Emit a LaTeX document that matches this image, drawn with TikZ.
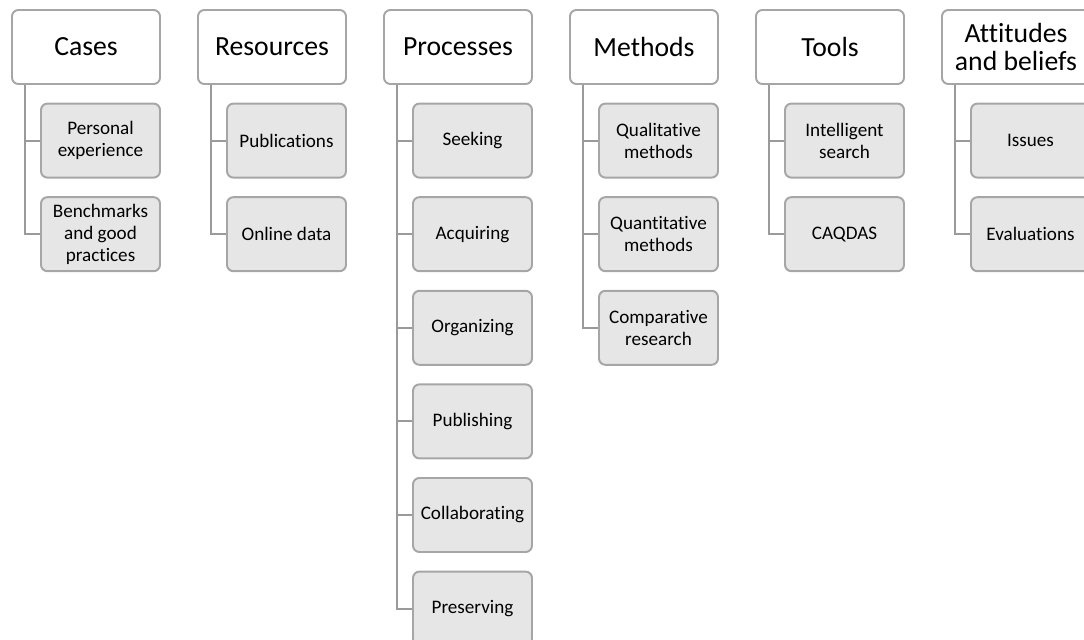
\documentclass[tikz,border=0pt]{standalone}
\usepackage{fontspec}
\setmainfont[Ligatures = NoCommon]{Carlito}
\usepackage{tikz}
\usepackage{xcolor}
\definecolor{boxline}{HTML}{A6A6A6}
\definecolor{subfill}{HTML}{E6E6E6}
\definecolor{treeline}{HTML}{9A9A9A}

\begin{document}
\begin{tikzpicture}[
toprect/.style={rectangle, align = center,
draw = boxline, fill = white, line width = 1.4pt,
minimum width = 3.7cm, minimum height = 1.85cm, rounded corners = 0.16cm,
font = \fontsize{19.7}{19.5}\selectfont},
subrect/.style={rectangle, align = center,
draw = boxline, fill = subfill, line width = 1.4pt,
minimum width = 2.975cm, minimum height = 1.85cm, rounded corners = 0.16cm,
font = \fontsize{13.6}{15.5}\selectfont},
treearr/.style={draw = treeline, line width = 1.4pt},
node distance = 2.34cm]

\useasboundingbox (0,0) rectangle (27.1,-16);

% category headers
\node[toprect] (Cases) at (2.15,-1.175) {Cases};
\node[toprect] (Res) at (6.8,-1.175) {Resources};
\node[toprect] (Proc) at (11.45,-1.175) {Processes};
\node[toprect] (Meth) at (16.1,-1.175) {Methods};
\node[toprect] (Tools) at (20.75,-1.175) {Tools};
\node[toprect] (Att) at (25.4,-1.175) {Attitudes\\and beliefs};

% Cases
\node[subrect, below of = Cases, xshift = 0.3625cm] (PE) {Personal\\experience};
\node[subrect, below of = PE] (BGP) {Benchmarks\\and good\\practices};

% Resources
\node[subrect, below of = Res, xshift = 0.3625cm] (Pub) {Publications};
\node[subrect, below of = Pub] (OD) {Online data};

% Processes
\node[subrect, below of = Proc, xshift = 0.3625cm] (See) {Seeking};
\node[subrect, below of = See] (Acq) {Acquiring};
\node[subrect, below of = Acq] (Org) {Organizing};
\node[subrect, below of = Org] (Publ) {Publishing};
\node[subrect, below of = Publ] (Col) {Collaborating};
\node[subrect, below of = Col] (Pres) {Preserving};

% Methods
\node[subrect, below of = Meth, xshift = 0.3625cm] (QlM) {Qualitative\\methods};
\node[subrect, below of = QlM] (QnM) {Quantitative\\methods};
\node[subrect, below of = QnM] (CR) {Comparative\\research};

% Tools
\node[subrect, below of = Tools, xshift = 0.3625cm] (IS) {Intelligent\\search};
\node[subrect, below of = IS] (CAQ) {CAQDAS};

% Attitudes and beliefs
\node[subrect, below of = Att, xshift = 0.3625cm] (Iss) {Issues};
\node[subrect, below of = Iss] (Ev) {Evaluations};

% tree lines
\foreach \top/\kids in {Cases/{PE,BGP}, Res/{Pub,OD},
  Proc/{See,Acq,Org,Publ,Col,Pres}, Meth/{QlM,QnM,CR},
  Tools/{IS,CAQ}, Att/{Iss,Ev}}
  \foreach \k in \kids
    \draw[treearr] ([xshift = 0.35cm]\top.south west) |- (\k.west);

\end{tikzpicture}
\end{document}
